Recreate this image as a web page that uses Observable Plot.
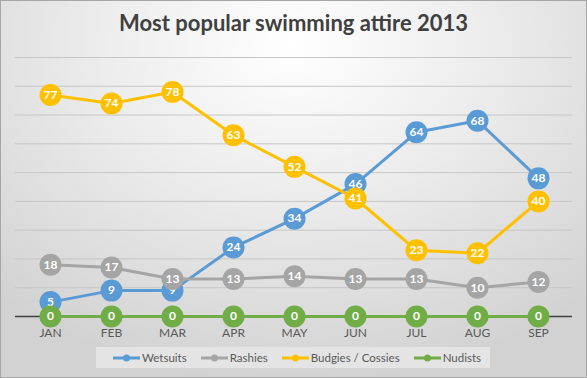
<!DOCTYPE html>
<html>
<head>
<meta charset="utf-8">
<script src="https://cdn.jsdelivr.net/npm/d3@7"></script>
<script src="https://cdn.jsdelivr.net/npm/@observablehq/plot@0.6"></script>
<style>
  html, body { margin: 0; padding: 0; }
  #chart {
    position: relative; width: 587px; height: 378px; box-sizing: border-box;
    border: 1px solid #a6a6a6; overflow: hidden;
    background: radial-gradient(ellipse 75% 90% at 50% 12%, #ffffff 0%, #ececec 45%, #d2d2d2 100%);
    font-family: Lato, "Open Sans", sans-serif;
  }
  #title {
    position: absolute; left: -1px; top: 8px; width: 587px; text-align: center;
    font-size: 22px; font-weight: 700; color: #404040;
  }
  #plot { position: absolute; left: -1px; top: 44px; width: 587px; }
  #plot svg { max-width: none; }
  #legend {
    position: absolute; left: 95px; top: 346px; width: 394px; height: 21px;
    box-sizing: border-box; padding-left: 17px;
    background: #e4e4e4; display: flex; align-items: center; justify-content: flex-start;
    font-size: 11.5px; color: #595959; gap: 14px; white-space: nowrap;
  }
  .item { display: flex; align-items: center; flex-shrink: 0; }
  .item svg { margin-right: 2px; }
</style>
</head>
<body>
<div id="chart">
  <div id="title">Most popular swimming attire 2013</div>
  <div id="plot"></div>
  <div id="legend"></div>
</div>
<script>
const months = ["JAN","FEB","MAR","APR","MAY","JUN","JUL","AUG","SEP"];
const seriesNames = ["Wetsuits","Rashies","Budgies / Cossies","Nudists"];
const seriesColors = ["#5B9BD5","#A5A5A5","#FFC000","#70AD47"];
const wetsuits = [5,9,9,24,34,46,64,68,48];
const rashies  = [18,17,13,13,14,13,13,10,12];
const budgies  = [77,74,78,63,52,41,23,22,40];
const nudists  = [0,0,0,0,0,0,0,0,0];
const yTicks = [10,20,30,40,50,60,70,80,90];

const seriesValues = [wetsuits, rashies, budgies, nudists];
const data = seriesNames.flatMap((s, i) =>
  months.map((m, j) => ({series: s, month: m, value: seriesValues[i][j]})));

const marks = [
  Plot.gridY(yTicks, {stroke: "#c6c6c6", strokeOpacity: 1, strokeWidth: 1}),
  Plot.ruleY([0], {stroke: "#404040", strokeWidth: 1.5}),
  Plot.axisX({tickSize: 0, tickPadding: 12, fontSize: 12, fill: "#595959", fontFamily: "Lato", label: null})
];
seriesNames.forEach((s) => {
  const d = data.filter(r => r.series === s);
  marks.push(Plot.lineY(d, {x: "month", y: "value", stroke: "series", strokeWidth: 3}));
});
seriesNames.forEach((s) => {
  const d = data.filter(r => r.series === s);
  marks.push(Plot.dot(d, {x: "month", y: "value", fill: "series", r: 11}));
  marks.push(Plot.text(d, {x: "month", y: "value", text: "value", fill: "white",
    fontWeight: "bold", fontSize: 12, fontFamily: "Lato"}));
});

const plot = Plot.plot({
  width: 587, height: 300,
  marginTop: 12, marginBottom: 29, marginLeft: 15, marginRight: 15,
  style: {background: "transparent", overflow: "visible", maxWidth: "none"},
  x: {type: "point", domain: months, padding: 0.5, axis: null},
  y: {domain: [0, 90], axis: null},
  color: {domain: seriesNames, range: seriesColors},
  marks
});
document.getElementById("plot").appendChild(plot);

const legend = document.getElementById("legend");
seriesNames.forEach((s, i) => {
  const it = document.createElement("div");
  it.className = "item";
  it.innerHTML = `<svg width="27" height="10"><line x1="0" x2="27" y1="5" y2="5" stroke="${seriesColors[i]}" stroke-width="3"/><circle cx="13.5" cy="5" r="3.5" fill="${seriesColors[i]}"/></svg><span>${s}</span>`;
  legend.appendChild(it);
});
</script>
</body>
</html>
